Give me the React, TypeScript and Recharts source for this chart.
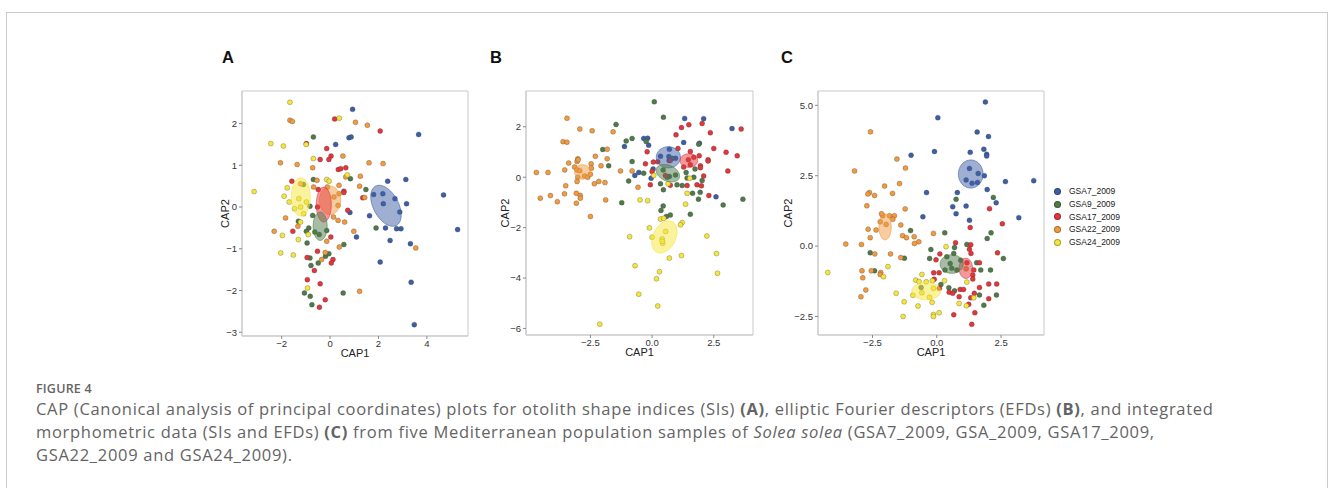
import React from 'react';
import { ScatterChart, Scatter, XAxis, YAxis, ReferenceArea } from 'recharts';

type P = [number, number];
// ellipse: centre x, centre y, first half-axis (x, y), second half-axis (x, y), in data units
type Ell = [number, number, number, number, number, number];

const groups = ['GSA7_2009', 'GSA9_2009', 'GSA17_2009', 'GSA22_2009', 'GSA24_2009'];
const colors = ['#3d5fa6', '#4f7a49', '#e2363b', '#f19a3e', '#f6e53a'];

// ---- Panel A: shape indices
const aGsa7: P[] = [
  [0.93, 2.34], [0.78, 1.66], [0.87, 1.68], [0.23, 1.5], [3.66, 1.74], [2.38, 0.62], [3.13, 0.66],
  [1.8, 0.3], [2.18, 0.32], [2.68, 0.2], [2.2, 0.08], [3.16, 0.08], [2.88, -0.12], [1.63, -0.21],
  [2.29, -0.5], [2.75, -0.52], [2.93, -0.52], [4.69, 0.29], [5.27, -0.54], [2.48, -0.8], [1.09, -0.72],
  [3.32, -0.88], [2.07, -1.32], [3.35, -1.8], [3.48, -2.82], [0.82, -0.13],
];
const aGsa9: P[] = [
  [-0.69, 1.68], [0.84, 0.68], [1.48, 0.42], [-1.1, 0.54], [-0.69, 0.66], [-0.83, 0.02], [-0.72, -0.2],
  [-1.31, -0.34], [-0.88, -0.5], [-0.98, -0.58], [-0.63, -0.6], [-0.14, -0.56], [-0.95, -0.86],
  [-0.45, -0.66], [0.57, -0.9], [1.9, -0.5], [-0.05, -1.12], [-0.19, -1.18], [-0.83, -1.22],
  [-0.79, -1.4], [-0.49, -1.34], [-1.06, -2.06], [-0.82, -2.14], [-0.75, -2.34], [0.54, -2.06],
];
const aGsa17: P[] = [
  [0.19, 2.11], [2.07, 1.82], [-0.98, 1.52], [-0.14, 1.4], [0.04, 1.22], [-0.05, 1.14], [-0.41, 1.14],
  [0.34, 0.9], [0.44, 0.92], [0.65, 0.94], [-1.58, 0.62], [-0.49, 0.42], [0.57, 0.38], [0.57, 0.35],
  [1.35, 0.22], [-1.54, -0.58], [-0.52, 0], [0.73, -0.08], [0.03, -0.72], [-0.52, -1.06], [-0.95, -1.21],
  [0.12, -1.26], [0.05, -1.34], [-0.65, -1.52], [-0.94, -1.74], [-0.41, -1.84], [-0.2, -2.22], [-0.44, -2.4],
];
const aGsa22: P[] = [
  [-1.66, 2.08], [-1.56, 2.05], [1.05, 2.03], [1.54, 1.96], [-2.05, 1.06], [-1.36, 1.02], [-0.72, 0.94],
  [0.53, 1.22], [1.61, 1.06], [2.19, 1.04], [-0.54, 0.64], [0.65, 0.72], [1.25, 0.74], [1.22, 0.5],
  [1.43, 0.23], [-1.22, 0.56], [-1.84, -0.26], [-2.31, -0.58], [-1.33, -0.46], [-0.11, 0.48], [0.16, 0.24],
  [0.37, 0.52], [0.33, 0.04], [0.14, -0.24], [0.33, -0.32], [0.6, -0.36], [0.37, 0.32], [0.98, -0.58],
  [-0.14, -0.82], [-0.2, -1.09], [0.38, -0.96], [3.54, -0.98], [1.22, -2.02], [-0.35, -1.26], [-0.68, 0.48],
];
const aGsa24: P[] = [
  [-1.66, 2.51], [-2.45, 1.52], [-1.93, 1.46], [-3.14, 0.37], [-0.99, 1.5], [0.38, 2.13], [-0.69, 1.16],
  [-0.14, 0.66], [-0.04, 0.62], [-1.77, 0.46], [-1.9, 0.26], [-1.69, 0.12], [-1.29, 0.2], [-1.47, -0.04],
  [-1.22, 0], [-1.09, -0.16], [-0.98, 0.12], [-1.22, -0.36], [-1.97, -0.68], [-1.31, -0.78], [-0.9, -0.66],
  [-2.04, -1.1], [-1.52, -1.15], [-0.93, -1.94], [0.71, 0.77],
];
const aEllipses: Ell[] = [
  [2.31, 0.03, 0.435, -0.47, -0.456, -0.144],
  [-0.41, -0.46, 0.29, 0, 0, 0.34],
  [-0.26, 0.06, 0.31, 0, 0, 0.42],
  [0, 0.16, 0.44, 0, 0, 0.34],
  [-1.21, 0.24, 0.39, 0, 0, 0.46],
];

// ---- Panel B: elliptic Fourier descriptors
const bGsa7: P[] = [
  [-0.34, 1.54], [-0.18, 1.55], [-1.12, 1.22], [-0.14, 1.27], [1.32, 2.33], [2.09, 2.32], [3.24, 1.93],
  [1.28, 1.38], [1.92, 1.35], [0.34, 0.83], [0.68, 0.82], [0.7, 1.11], [0.69, 0.66], [0.95, 0.75],
  [-0.7, 0.07], [-0.54, 0.19], [0.04, 0.33], [-0.04, -0.04], [0.7, 0.03], [2.59, -0.78],
];
const bGsa9: P[] = [
  [0.09, 2.99], [0.46, 2.38], [-1.46, 2.09], [-0.81, 1.54], [-1.05, 1.44], [-2.0, 1.1], [-1.76, 0.45],
  [-0.81, 0.62], [-0.95, -0.15], [-0.34, 0.16], [-1.23, -1.01], [-0.24, 1.42], [0.81, 0.75], [0.45, 0.29],
  [0.61, 0], [0.95, 0.09], [1.22, -0.33], [1.01, -0.3], [0.34, -0.26], [0.46, -0.5], [0.45, -1.14],
  [0.36, -1.32], [0.58, -1.56], [0.74, -1.5], [1.64, -0.64], [1.69, 0], [1.89, 1.31], [2.03, -0.13],
  [1.95, -0.6], [1.88, -0.87], [1.55, -1.47], [2.88, -1.1], [3.68, -0.87], [1.74, 0.33], [1.38, 0.19],
  [1.42, -0.03],
];
const bGsa17: P[] = [
  [0.97, 1.68], [1.19, 1.97], [1.49, 2.08], [2.03, 2.13], [2.36, 1.76], [3.61, 1.91], [-0.2, 1.01],
  [1.05, 1.14], [1.55, 1.02], [2.5, 1.14], [3.0, 0.99], [3.45, 0.85], [-0.27, 0.53], [0.05, 0.6],
  [0.23, 0.61], [0.74, 0.66], [1.47, 0.69], [1.69, 0.79], [1.91, 0.85], [1.96, 0.45], [2.27, 0.69],
  [2.27, 0.64], [1.96, 0.38], [3.07, 0.25], [1.28, 0.4], [1.55, 0.49], [0, 0.23], [-0.07, -0.3],
  [0.74, -0.32], [1.42, -0.33], [1.82, -0.3], [2.0, -0.34], [2.09, 0.05], [2.3, -0.73], [0.54, 0.07],
];
const bGsa22: P[] = [
  [-3.45, 2.34], [-2.93, 1.91], [-2.43, 1.84], [-1.58, 1.8], [-3.61, 1.41], [-3.45, 1.39], [-1.82, 1.11],
  [-2.3, 0.83], [-1.82, 0.73], [-3.01, 0.73], [-3.38, 0.56], [-2.47, 0.53], [-2.07, 0.45], [-3.14, 0.4],
  [-3.04, 0.29], [-2.93, 0.26], [-3.54, 0.29], [-3.04, 0.62], [-3.0, 0.69], [-4.69, 0.19], [-4.22, 0.19],
  [-2.46, 0.36], [-2.74, 0.05], [-2.61, 0], [-2.5, 0.12], [-3.01, 0], [-3.04, -0.17], [-2.34, -0.26],
  [-2.16, -0.17], [-1.91, -0.21], [-3.5, -0.34], [-1.28, 0.25], [-0.81, 0.25], [-0.57, -0.4],
  [-4.53, -0.83], [-4.12, -0.73], [-3.84, -0.97], [-3.55, -0.66], [-3.07, -0.64], [-2.91, -0.72],
  [-2.91, -0.83], [-3.07, -1.03], [-1.88, -0.9], [-2.5, -1.56],
];
const bGsa24: P[] = [
  [0.07, 0.07], [1.53, -0.04], [0.65, -0.26], [1.42, -0.64], [-0.49, -0.9], [-0.18, -0.93], [1.36, -1.07],
  [0.34, -1.66], [0.47, -1.63], [1.22, -1.8], [1.15, -1.89], [-0.11, -2.01], [0.55, -2.15], [-0.91, -2.36],
  [0, -2.38], [0.41, -2.45], [0.43, -2.62], [0.41, -2.54], [2.22, -2.33], [0.7, -3.21], [1.19, -3.11],
  [2.61, -3.03], [2.65, -3.81], [-0.69, -3.51], [0.3, -3.75], [0.18, -4.03], [-0.54, -4.64], [0.23, -5.11],
  [-2.12, -5.83],
];
const bEllipses: Ell[] = [
  [0.66, 0.79, 0.49, 0, 0, 0.42],
  [0.64, 0.16, 0.46, -0.19, -0.12, -0.29],
  [1.49, 0.66, 0.36, 0, 0, 0.27],
  [-2.82, 0.21, 0.32, 0, 0, 0.29],
  [0.5, -2.37, 0.31, 0.61, 0.41, -0.2],
];

// ---- Panel C: integrated data
const cGsa7: P[] = [
  [1.89, 5.12], [0.04, 4.56], [1.57, 4.05], [2.01, 3.89], [-0.09, 3.36], [-1.0, 3.23], [1.3, 3.33],
  [1.83, 3.44], [1.94, 3.26], [1.94, 3.2], [1.27, 2.76], [1.61, 2.58], [1.85, 2.5], [1.14, 2.35],
  [1.37, 2.23], [1.58, 2.26], [1.96, 2.01], [2.67, 2.29], [3.77, 2.32], [-0.4, 1.9], [0.8, 1.9],
  [2.31, 1.54], [0.62, 1.4], [1.14, 1.42], [0.75, 1.15], [-0.54, 1.04], [1.27, 0.92], [3.19, 1.01],
];
const cGsa9: P[] = [
  [-2.59, -0.24], [-2.42, -0.88], [-1.26, -0.43], [-1.02, 0.55], [0.31, 0.47], [-0.28, -0.44],
  [-0.23, -0.12], [0.39, -0.38], [0.69, -0.05], [0.66, -0.26], [0.52, -0.62], [0.58, -0.79], [0.32, -0.85],
  [0.78, -0.85], [0.93, -0.5], [1.55, -0.59], [2.09, -0.85], [1.71, -0.85], [1.96, 0.27], [2.11, 0.47],
  [2.2, 1.73], [0.75, 1.66], [1.17, 0.06], [0.47, -1.48], [0.69, -1.59], [1.66, -1.74], [1.83, -2.1],
  [2.32, -1.74], [2.59, -0.44], [0.16, -1.37], [-0.61, -1.47],
];
const cGsa17: P[] = [
  [2.05, 1.33], [2.55, 0.79], [1.3, 0.66], [0.73, 0.12], [1.32, 0.05], [0.12, -0.28], [-0.03, -0.49],
  [1.27, -0.11], [1.33, -0.26], [1.17, -0.59], [1.66, -0.59], [2.36, -0.24], [1.44, -0.85], [1.4, -1.03],
  [1.4, -1.17], [0.09, -0.95], [-0.12, -0.95], [-0.1, -1.18], [0.1, -1.5], [0.48, -1.64], [0.91, -1.54],
  [1.04, -1.54], [0.87, -1.8], [1.46, -1.68], [1.32, -1.84], [1.66, -1.47], [2.02, -1.35], [2.33, -1.35],
  [2.02, -1.87], [1.24, -2.07], [1.48, -2.37], [0.66, -2.44], [1.36, -2.78], [0.62, -1.68],
];
const cGsa22: P[] = [
  [-2.58, 4.06], [-3.2, 2.67], [-1.55, 3.09], [-1.22, 2.77], [-1.45, 2.22], [-2.03, 2.13], [-1.72, 1.87],
  [-2.62, 1.9], [-2.68, 1.85], [-2.42, 1.8], [-2.72, 1.43], [-1.23, 1.32], [-2.1, 1.08], [-2.15, 1.15],
  [-1.84, 1.08], [-1.65, 1.08], [-1.71, 0.95], [-2.2, 0.86], [-1.97, 0.77], [-2.67, 0.6], [-2.36, 0.57],
  [-2.59, 0.3], [-1.4, 0.75], [-1.33, 0.37], [-1.18, 0.3], [-0.88, 0.33], [-0.7, 0.15], [-0.87, 0.09],
  [-0.13, 0.45], [-3.54, 0.07], [-2.93, 0.06], [-2.41, -0.28], [-1.8, -0.28], [-1.4, -0.41], [-2.91, -0.88],
  [-2.55, -0.88], [-2.18, -0.94], [-2.2, -1.01], [-2.88, -1.13], [-2.76, -1.56], [-2.95, -1.8], [1.14, -0.81],
];
const cGsa24: P[] = [
  [-4.24, -0.94], [-1.9, -0.73], [-2.07, -1.09], [-1.58, -1.68], [-0.82, -1.21], [-0.69, -1.26],
  [-0.58, -1.01], [-0.41, -1.27], [-0.17, -1.23], [0.3, -1.23], [-0.93, -1.75], [-0.58, -1.66],
  [-0.13, -1.5], [-0.28, -1.82], [-1.27, -1.98], [-0.73, -2.13], [-0.18, -2.0], [0.87, -2.04],
  [1.15, -2.12], [-1.31, -2.5], [-0.13, -2.43], [0.09, -2.37], [-0.13, -2.5], [1.44, -1.84], [1.17, -1.28],
  [0.36, -0.02],
];
const cEllipses: Ell[] = [
  [1.32, 2.56, 0.48, 0, 0, 0.5],
  [0.58, -0.64, 0.45, 0, 0, 0.33],
  [1.13, -0.79, 0.26, 0, 0, 0.36],
  [-2.01, 0.68, 0.24, 0, 0, 0.46],
  [-0.41, -1.6, 0.56, 0, 0, 0.31],
];

const minus = (s: string) => s.replace('-', '\u2212');
const intFmt = (v: number) => minus(String(v));
const oneDec = (v: number) => minus(v.toFixed(1));

const panels = [
  {
    label: 'A', points: [aGsa7, aGsa9, aGsa17, aGsa22, aGsa24], ellipses: aEllipses,
    xDomain: [-3.64, 5.7], yDomain: [-3.09, 2.78], xTicks: [-2, 0, 2, 4], yTicks: [-3, -2, -1, 0, 1, 2],
    fmtX: intFmt, fmtY: intFmt, plotLeft: 242, plotW: 226, plotH: 245, titleGap: 17, labelX: 222,
  },
  {
    label: 'B', points: [bGsa7, bGsa9, bGsa17, bGsa22, bGsa24], ellipses: bEllipses,
    xDomain: [-5.11, 4.09], yDomain: [-6.26, 3.42], xTicks: [-2.5, 0, 2.5], yTicks: [-6, -4, -2, 0, 2],
    fmtX: oneDec, fmtY: intFmt, plotLeft: 526, plotW: 227, plotH: 244, titleGap: 21, labelX: 490,
  },
  {
    label: 'C', points: [cGsa7, cGsa9, cGsa17, cGsa22, cGsa24], ellipses: cEllipses,
    xDomain: [-4.62, 4.17], yDomain: [-3.16, 5.51], xTicks: [-2.5, 0, 2.5], yTicks: [-2.5, 0, 2.5, 5],
    fmtX: oneDec, fmtY: oneDec, plotLeft: 818, plotW: 226, plotH: 244, titleGap: 30, labelX: 781,
  },
];

const outline = (e: Ell) => {
  const [cx, cy, ux, uy, vx, vy] = e;
  const pts = [];
  for (let k = 0; k < 64; k++) {
    const t = (k / 64) * Math.PI * 2;
    pts.push({ x: cx + ux * Math.cos(t) + vx * Math.sin(t), y: cy + uy * Math.cos(t) + vy * Math.sin(t) });
  }
  return pts;
};

const dot = (color: string) => (p: any) => (
  <circle cx={p.cx} cy={p.cy} r={2.5} fill={color} stroke="#333" strokeOpacity={0.55} strokeWidth={0.5} />
);

const tickStyle = { fontSize: 9.5, fill: '#333', fontFamily: 'Liberation Sans, Arial, sans-serif' };
const titleFont = 'Liberation Sans, Arial, sans-serif';
const ellipseOrder = [0, 3, 4, 2, 1];

const Panel = ({ cfg }: { cfg: (typeof panels)[number] }) => {
  const yAxisW = 42;
  const xAxisH = 26;
  const m = { top: 11, right: 8, bottom: 8, left: 0 };
  const width = yAxisW + cfg.plotW + m.right;
  const height = m.top + cfg.plotH + xAxisH + m.bottom;
  return (
    <div style={{ position: 'absolute', left: cfg.plotLeft - yAxisW, top: 80 }}>
      <ScatterChart width={width} height={height} margin={m}>
        <XAxis
          type="number" dataKey="x" domain={cfg.xDomain} ticks={cfg.xTicks} allowDataOverflow
          tickFormatter={cfg.fmtX} tick={tickStyle} tickSize={3} tickMargin={1} height={xAxisH}
          axisLine={{ stroke: '#c9c9c9' }} tickLine={{ stroke: '#888' }}
          label={(p: any) => (
            <text x={p.viewBox.x + p.viewBox.width / 2} y={p.viewBox.y + 17} textAnchor="middle"
              dominantBaseline="central" fontSize={11} fill="#222" fontFamily={titleFont}>CAP1</text>
          )}
        />
        <YAxis
          type="number" dataKey="y" domain={cfg.yDomain} ticks={cfg.yTicks} allowDataOverflow
          tickFormatter={cfg.fmtY} tick={tickStyle} tickSize={3} tickMargin={2} width={yAxisW}
          axisLine={{ stroke: '#c9c9c9' }} tickLine={{ stroke: '#888' }}
          label={(p: any) => {
            const x = p.viewBox.x + p.viewBox.width - cfg.titleGap;
            const y = p.viewBox.y + p.viewBox.height / 2;
            return (
              <text x={x} y={y} transform={`rotate(-90 ${x} ${y})`} textAnchor="middle"
                dominantBaseline="central" fontSize={11} fill="#222" fontFamily={titleFont}>CAP2</text>
            );
          }}
        />
        <ReferenceArea x1={cfg.xDomain[0]} x2={cfg.xDomain[1]} y1={cfg.yDomain[0]} y2={cfg.yDomain[1]}
          fill="none" stroke="#c9c9c9" strokeWidth={1} fillOpacity={0} />
        {cfg.points.map((pts, i) => (
          <Scatter key={groups[i]} name={groups[i]} data={pts.map(([x, y]) => ({ x, y }))}
            shape={dot(colors[i])} isAnimationActive={false} />
        ))}
        {ellipseOrder.map((i) => (
          <Scatter key={'ell' + i} data={outline(cfg.ellipses[i])} shape={() => <g />}
            line={{ fill: colors[i], fillOpacity: 0.5, stroke: colors[i], strokeOpacity: 0.75, strokeWidth: 0.8 }}
            lineJointType="linearClosed" legendType="none" isAnimationActive={false} />
        ))}
      </ScatterChart>
    </div>
  );
};

const App = () => (
  <div style={{ position: 'absolute', left: 0, top: 0, width: 1332, height: 488, background: '#fff', overflow: 'hidden' }}>
    <div style={{ position: 'absolute', left: 6, top: 12, width: 1322, height: 500, border: '1px solid #cccccc', boxSizing: 'border-box' }} />
    {panels.map((cfg) => (
      <React.Fragment key={cfg.label}>
        <div style={{ position: 'absolute', left: cfg.labelX, top: 48, fontFamily: titleFont, fontWeight: 700, fontSize: 16.5, color: '#111' }}>
          {cfg.label}
        </div>
        <Panel cfg={cfg} />
      </React.Fragment>
    ))}
    <div style={{ position: 'absolute', left: 1054, top: 185, fontFamily: titleFont, fontSize: 8.5, color: '#222' }}>
      {groups.map((g, i) => (
        <div key={g} style={{ height: 12.7, display: 'flex', alignItems: 'center' }}>
          <span style={{ display: 'inline-block', width: 5, height: 5, borderRadius: '50%', background: colors[i], marginRight: 8, border: '0.5px solid rgba(0,0,0,0.3)' }} />
          {g}
        </div>
      ))}
    </div>
    <div style={{ position: 'absolute', left: 36, top: 380, fontFamily: 'Open Sans, sans-serif', color: '#646464' }}>
      <div style={{ fontSize: 12.5, fontWeight: 600, height: 17, letterSpacing: 0.2 }}>FIGURE 4</div>
      <div style={{ fontSize: 16.5, lineHeight: '23px', whiteSpace: 'nowrap', letterSpacing: 0.7 }}>
        <div>CAP (Canonical analysis of principal coordinates) plots for otolith shape indices (SIs) <b>(A)</b>, elliptic Fourier descriptors (EFDs) <b>(B)</b>, and integrated</div>
        <div>morphometric data (SIs and EFDs) <b>(C)</b> from five Mediterranean population samples of <i>Solea solea</i> (GSA7_2009, GSA_2009, GSA17_2009,</div>
        <div>GSA22_2009 and GSA24_2009).</div>
      </div>
    </div>
  </div>
);

export default App;
